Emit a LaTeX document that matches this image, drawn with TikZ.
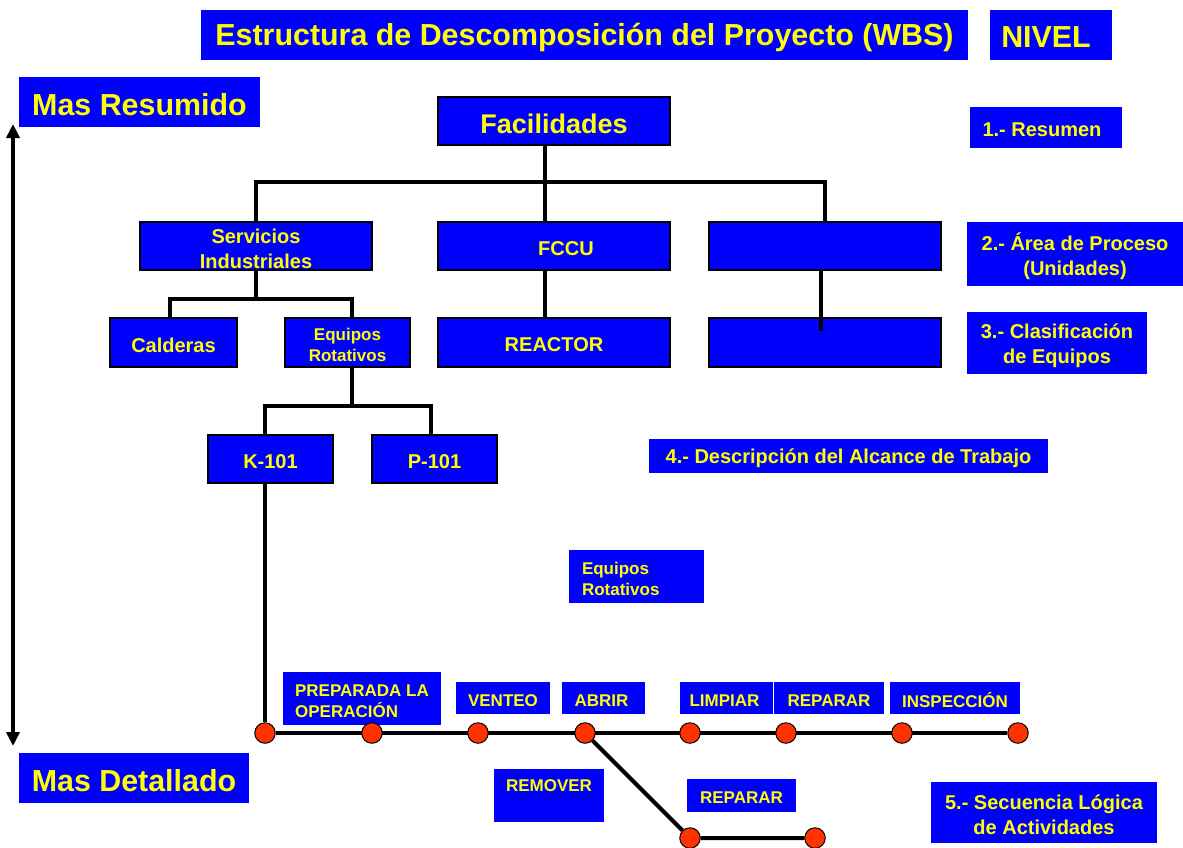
\documentclass[tikz,border=0pt]{standalone}
\usepackage{fontspec}
\setmainfont{Liberation Sans}
\usetikzlibrary{arrows.meta,backgrounds}
\definecolor{wblue}{RGB}{0,0,255}
\definecolor{wyellow}{RGB}{255,255,0}
\definecolor{wdot}{RGB}{255,51,0}
% #1 name, #2 box style, #3 text style, #4-#7 x1 y1 x2 y2, #8 text
\newcommand\wbox[8]{%
  \node[#2,minimum width=#6-#4,minimum height=#7-#5] (#1) at ({(#4+#6)/2},{(#5+#7)/2}) {};
  \node[txt,#3] (#1-t) at ([yshift=-2.5pt]#1.center) {#8};}
\tikzset{
  lab/.style={fill=wblue,inner sep=0pt},
  wbs/.style={lab,draw=black,line width=1.5pt},
  txt/.style={text=wyellow,inner sep=0pt,align=center},
  f30/.style={font=\fontsize{30.4}{36}\selectfont\bfseries},
  f27/.style={font=\fontsize{27}{32}\selectfont\bfseries},
  f20/.style={font=\fontsize{20}{25}\selectfont\bfseries},
  f17/.style={font=\fontsize{17}{21}\selectfont\bfseries},
  conn/.style={line width=4pt,black},
  act/.style={circle,fill=wdot,draw=black,line width=1pt,minimum size=20.5pt,inner sep=0pt},
  bigarrow/.style={line width=3.5pt,{Triangle[length=14pt,width=13pt]}-{Triangle[length=14pt,width=13pt]}}
}
\begin{document}
\begin{tikzpicture}[x=1pt,y=-1pt]
\useasboundingbox (0,0) rectangle (1183,847);
% title row
\wbox{title}{lab}{f30}{201}{10}{968}{60}{Estructura de Descomposición del Proyecto (WBS)}
\wbox{nivel}{lab}{f30,xshift=-5pt}{990}{10}{1112}{60}{NIVEL}
\wbox{resum}{lab}{f30}{19}{77}{260}{127}{Mas Resumido}
\wbox{detal}{lab}{f30}{19}{753}{249}{803}{Mas Detallado}
% tree
\wbox{fac}{wbs}{f27}{438}{97}{670}{145}{Facilidades}
\wbox{l1}{lab}{f20,xshift=-4pt}{970}{107}{1122}{148}{1.- Resumen}
\wbox{serv}{wbs}{f20}{140}{222}{372}{270}{Servicios\\Industriales}
\wbox{fccu}{wbs}{f20,xshift=12pt}{438}{222}{670}{270}{FCCU}
\wbox{ea}{wbs}{}{709}{222}{941}{270}{}
\wbox{l2}{lab}{f20}{967}{222}{1183}{286}{2.- Área de Proceso\\(Unidades)}
\wbox{cald}{wbs}{f20}{110}{318}{237}{367}{Calderas}
\wbox{eqr}{wbs}{f17}{285}{318}{410}{367}{Equipos\\Rotativos}
\wbox{reac}{wbs}{f20}{438}{318}{670}{367}{REACTOR}
\wbox{eb}{wbs}{}{709}{318}{941}{367}{}
\wbox{l3}{lab}{f20}{967}{312}{1147}{374}{3.- Clasificación\\de Equipos}
\wbox{k101}{wbs}{f20}{208}{435}{333}{483}{K-101}
\wbox{p101}{wbs}{f20}{372}{435}{497}{483}{P-101}
\wbox{l4}{lab}{f20}{649}{439}{1048}{473}{4.- Descripción del Alcance de Trabajo}
\wbox{eqr2}{lab}{f17,text width=109pt,align=left}{569}{550}{704}{603}{Equipos\\Rotativos}
% activities
\wbox{prep}{lab}{f17,align=left}{283}{672}{441}{725}{PREPARADA LA\\OPERACIÓN}
\wbox{vent}{lab}{f17}{456}{682}{550}{714}{VENTEO}
\wbox{abrir}{lab}{f17,xshift=-2pt}{562}{682}{645}{714}{ABRIR}
\wbox{limp}{lab}{f17,xshift=-2pt}{680}{682}{773}{714}{LIMPIAR}
\wbox{repa}{lab}{f17}{774}{682}{884}{714}{REPARAR}
\wbox{insp}{lab}{f17}{890}{682}{1020}{714}{INSPECCIÓN}
\wbox{remo}{lab}{f17,yshift=12pt}{494}{769}{604}{822}{REMOVER}
\wbox{repb}{lab}{f17}{687}{779}{796}{812}{REPARAR}
\wbox{l5}{lab}{f20}{931}{782}{1157}{843}{5.- Secuencia Lógica\\de Actividades}
% activity nodes
\foreach \n/\x in {c1/265,c2/372,c3/478,c4/585,c5/690,c6/786,c7/902,c8/1018}
  \node[act] (\n) at (\x,733) {};
\node[act] (d1) at (690,838) {};
\node[act] (d2) at (815,838) {};
% connectors
\begin{scope}[on background layer]
\fill[white] (0,0) rectangle (1183,847);
\draw[conn] ([xshift=-9pt]fac.south) -- ([xshift=-9pt]fccu.north);
\draw[conn] (serv.north) -- ++(0,-39) -| (ea.north);
\draw[conn] ([xshift=-9pt]fccu.south) -- ([xshift=-9pt]reac.north);
\draw[conn] (serv.south) -- ++(0,28) coordinate (j1);
\draw[conn] ([xshift=-4pt]cald.north) |- (j1) -| ([xshift=4pt]eqr.north);
\draw[conn] ([xshift=4pt]eqr.south) -- ++(0,38) coordinate (j2);
\draw[conn] ([xshift=-6pt]k101.north) |- (j2) -| ([xshift=-4pt]p101.north);
\draw[conn] (c1 |- k101.south) -- (c1);
\draw[conn] (c1) -- (c8);
\draw[conn] (c4) -- (d1) -- (d2);
\end{scope}
\draw[conn] ([xshift=-4pt]ea.south) -- ++(0,60) coordinate (eend);
% level arrow
\coordinate (atop) at (13,124);
\coordinate (abot) at (13,746);
\draw[bigarrow] (atop) -- (abot);
\end{tikzpicture}
\end{document}
